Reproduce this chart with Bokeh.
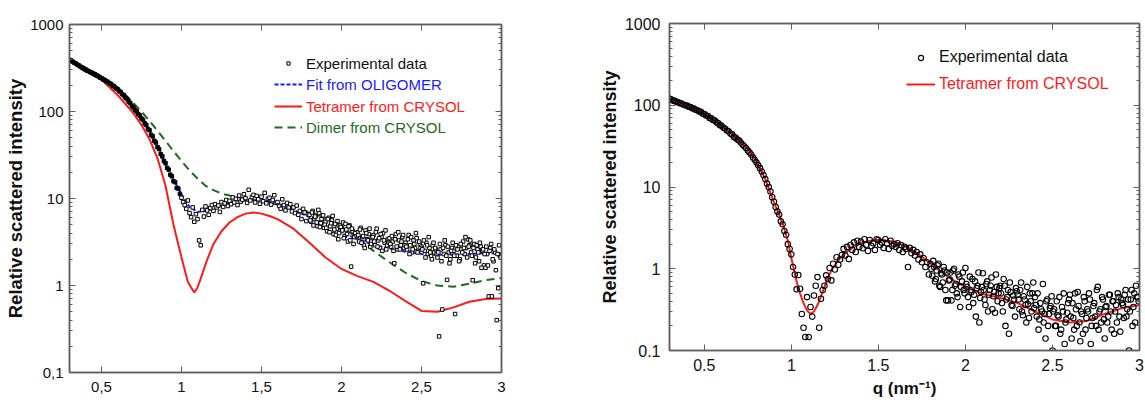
from bokeh.plotting import figure
from bokeh.models import (Range1d, FixedTicker, LinearAxis, LogAxis, Legend,
                          LegendItem, CustomJSTickFormatter)
from bokeh.layouts import row
from bokeh.embed import file_html
from bokeh.resources import INLINE

# ---------------- data ----------------
q_lo = [0.30, 0.31, 0.32, 0.33, 0.34, 0.35, 0.36, 0.37, 0.38, 0.39,
        0.40, 0.41, 0.42, 0.43, 0.44, 0.45, 0.46, 0.47, 0.48, 0.49,
        0.50, 0.51, 0.52, 0.53, 0.54, 0.55, 0.56, 0.57, 0.58, 0.59,
        0.60, 0.61, 0.62, 0.63, 0.64, 0.65, 0.66, 0.67, 0.68, 0.69,
        0.70, 0.71, 0.72, 0.73, 0.74, 0.75, 0.76, 0.77, 0.78, 0.79,
        0.80, 0.81, 0.82, 0.83, 0.84, 0.85, 0.86, 0.87, 0.88, 0.89,
        0.90, 0.91, 0.92, 0.93, 0.94, 0.95, 0.96, 0.97, 0.98, 0.99]

q_hi = [1.00, 1.01, 1.02, 1.03, 1.04, 1.05, 1.06, 1.07, 1.08, 1.09,
        1.10, 1.11, 1.12, 1.13, 1.14, 1.15, 1.16, 1.17, 1.18, 1.19,
        1.20, 1.21, 1.22, 1.23, 1.24, 1.25, 1.26, 1.27, 1.28, 1.29,
        1.30, 1.31, 1.32, 1.33, 1.34, 1.35, 1.36, 1.37, 1.38, 1.39,
        1.40, 1.41, 1.42, 1.43, 1.44, 1.45, 1.46, 1.47, 1.48, 1.49,
        1.50, 1.51, 1.52, 1.53, 1.54, 1.55, 1.56, 1.57, 1.58, 1.59,
        1.60, 1.61, 1.62, 1.63, 1.64, 1.65, 1.66, 1.67, 1.68, 1.69,
        1.70, 1.71, 1.72, 1.73, 1.74, 1.75, 1.76, 1.77, 1.78, 1.79,
        1.80, 1.81, 1.82, 1.83, 1.84, 1.85, 1.86, 1.87, 1.88, 1.89,
        1.90, 1.91, 1.92, 1.93, 1.94, 1.95, 1.96, 1.97, 1.98, 1.99,
        2.00, 2.01, 2.02, 2.03, 2.04, 2.05, 2.06, 2.07, 2.08, 2.09,
        2.10, 2.11, 2.12, 2.13, 2.14, 2.15, 2.16, 2.17, 2.18, 2.19,
        2.20, 2.21, 2.22, 2.23, 2.24, 2.25, 2.26, 2.27, 2.28, 2.29,
        2.30, 2.31, 2.32, 2.33, 2.34, 2.35, 2.36, 2.37, 2.38, 2.39,
        2.40, 2.41, 2.42, 2.43, 2.44, 2.45, 2.46, 2.47, 2.48, 2.49,
        2.50, 2.51, 2.52, 2.53, 2.54, 2.55, 2.56, 2.57, 2.58, 2.59,
        2.60, 2.61, 2.62, 2.63, 2.64, 2.65, 2.66, 2.67, 2.68, 2.69,
        2.70, 2.71, 2.72, 2.73, 2.74, 2.75, 2.76, 2.77, 2.78, 2.79,
        2.80, 2.81, 2.82, 2.83, 2.84, 2.85, 2.86, 2.87, 2.88, 2.89,
        2.90, 2.91, 2.92, 2.93, 2.94, 2.95, 2.96, 2.97, 2.98, 2.99]

# extra interleaved q points (dense, noisy tail)
q_hi2 = [1.805, 1.815, 1.825, 1.835, 1.845, 1.855, 1.865, 1.875, 1.885, 1.895,
         1.905, 1.915, 1.925, 1.935, 1.945, 1.955, 1.965, 1.975, 1.985, 1.995,
         2.005, 2.015, 2.025, 2.035, 2.045, 2.055, 2.065, 2.075, 2.085, 2.095,
         2.105, 2.115, 2.125, 2.135, 2.145, 2.155, 2.165, 2.175, 2.185, 2.195,
         2.205, 2.215, 2.225, 2.235, 2.245, 2.255, 2.265, 2.275, 2.285, 2.295,
         2.305, 2.315, 2.325, 2.335, 2.345, 2.355, 2.365, 2.375, 2.385, 2.395,
         2.405, 2.415, 2.425, 2.435, 2.445, 2.455, 2.465, 2.475, 2.485, 2.495,
         2.505, 2.515, 2.525, 2.535, 2.545, 2.555, 2.565, 2.575, 2.585, 2.595,
         2.605, 2.615, 2.625, 2.635, 2.645, 2.655, 2.665, 2.675, 2.685, 2.695,
         2.705, 2.715, 2.725, 2.735, 2.745, 2.755, 2.765, 2.775, 2.785, 2.795,
         2.805, 2.815, 2.825, 2.835, 2.845, 2.855, 2.865, 2.875, 2.885, 2.895,
         2.905, 2.915, 2.925, 2.935, 2.945, 2.955, 2.965, 2.975, 2.985, 2.995]

# left panel: experimental data
exp_L_lo = [392, 386, 374, 363, 356, 345, 337, 326, 319, 309,
            303, 295, 291, 283, 279, 271, 267, 259, 254, 246,
            242, 234, 230, 223, 219, 211, 207, 198, 194, 185,
            181, 172, 167, 158, 153, 144, 139, 130, 125, 116,
            111, 104, 100, 93, 90, 83, 80, 73, 70, 63,
            61, 54, 52, 46, 44, 39, 37, 32.5, 30.5, 27,
            25.5, 22.5, 21.5, 18.8, 18, 15.8, 15.4, 13.2, 13, 11.3]

exp_L_hi = [10.2, 9.1, 8.4, 7.6, 9.5, 6.8, 6.1, 7.9, 5.4, 6.6,
            5.8, 3.3, 2.9, 7.4, 6.2, 8.1, 7.3, 6.5, 7.8, 8.4,
            7.2, 8.6, 7.9, 8.3, 7.0, 9.1, 8.0, 8.8, 9.6, 8.2,
            9.4, 8.6, 10.3, 9.0, 9.9, 8.4, 10.8, 9.2, 9.7, 11.2,
            10.1, 8.9, 12.6, 9.5, 10.4, 11.0, 9.0, 10.7, 9.8, 8.7,
            10.5, 9.3, 11.6, 8.8, 9.9, 10.2, 8.5, 9.6, 10.9, 8.9,
            9.1, 8.2, 7.6, 9.8, 8.4, 7.3, 8.9, 7.9, 8.6, 7.1,
            7.9, 6.8, 8.3, 6.5, 7.2, 5.8, 7.6, 6.9, 5.5, 6.6,
            6.5, 5.4, 7.2, 5.9, 6.3, 4.8, 6.8, 5.2, 5.9, 4.6,
            5.4, 4.2, 6.0, 4.8, 5.6, 3.9, 5.1, 4.5, 3.4, 4.9,
            4.6, 5.3, 3.7, 4.4, 3.2, 4.9, 1.65, 4.2, 3.6, 3.9,
            4.1, 3.2, 4.6, 3.6, 2.9, 4.3, 3.4, 3.9, 2.8, 3.5,
            3.8, 2.9, 4.5, 3.3, 2.7, 3.6, 4.0, 3.1, 2.6, 3.4,
            3.5, 2.8, 3.2, 1.8, 3.9, 2.6, 3.3, 2.9, 3.6, 2.7,
            3.1, 2.6, 3.8, 2.9, 2.4, 3.3, 2.7, 3.5, 2.5, 3.0,
            2.8, 1.06, 2.5, 3.1, 2.3, 2.7, 2.2, 2.9, 2.4, 2.6,
            2.1, 0.26, 2.6, 0.53, 2.3, 2.9, 1.16, 2.4, 2.0, 2.7,
            2.5, 0.47, 2.2, 2.8, 2.0, 2.6, 3.2, 2.3, 2.7, 3.4,
            2.9, 2.4, 1.15, 3.0, 2.1, 2.6, 1.9, 2.8, 2.5, 1.7,
            1.6, 2.3, 0.75, 2.7, 0.75, 1.9, 2.4, 0.40, 0.93, 2.2]

exp_L_hi2 = [5.6, 6.9, 4.9, 6.2, 5.3, 7.4, 4.7, 5.8, 6.4, 5.0,
             4.6, 5.8, 4.1, 5.2, 6.3, 4.4, 3.8, 5.5, 4.0, 4.7,
             4.3, 3.5, 5.1, 3.9, 4.8, 3.3, 4.5, 3.0, 4.0, 3.7,
             3.8, 4.4, 3.1, 3.7, 2.7, 4.0, 3.3, 4.5, 3.0, 3.6,
             3.2, 4.1, 2.8, 3.5, 3.9, 2.5, 3.3, 4.3, 2.9, 3.1,
             3.0, 3.7, 2.5, 3.4, 2.8, 4.1, 2.6, 3.2, 3.8, 2.9,
             2.8, 3.4, 2.3, 3.6, 2.6, 3.0, 4.0, 2.4, 3.2, 2.7,
             2.6, 3.3, 2.1, 2.9, 3.6, 2.4, 2.0, 3.1, 2.7, 2.3,
             2.4, 3.0, 1.9, 2.7, 3.3, 2.2, 2.8, 1.8, 2.5, 3.1,
             2.2, 2.9, 2.6, 1.9, 3.0, 2.4, 2.7, 3.6, 2.1, 2.8,
             3.3, 2.2, 2.7, 1.8, 2.9, 2.4, 3.1, 1.6, 2.6, 2.3,
             2.8, 1.7, 2.5, 3.0, 2.0, 2.6, 1.5, 2.3, 2.9, 2.1]

# left panel: model curves
fit_q = [0.30, 0.35, 0.40, 0.45, 0.50, 0.55, 0.60, 0.65, 0.70, 0.75, 0.80, 0.85,
         0.90, 0.95, 1.00, 1.05, 1.10, 1.15, 1.20, 1.25, 1.30, 1.35, 1.40, 1.45,
         1.50, 1.55, 1.60, 1.70, 1.80, 1.90, 2.00, 2.10, 2.20, 2.30, 2.40, 2.50,
         2.60, 2.70, 2.80, 2.90, 3.00]
fit_I = [392, 346, 302, 272, 241, 212, 180, 145, 110, 84, 60, 40,
         25, 16.5, 11.2, 8.0, 7.0, 7.2, 7.6, 8.2, 8.8, 9.3, 9.6, 9.7,
         9.5, 9.1, 8.6, 7.4, 6.1, 5.0, 4.1, 3.4, 2.95, 2.65, 2.45, 2.3,
         2.25, 2.25, 2.3, 2.35, 2.35]

tet_q = [0.30, 0.35, 0.40, 0.45, 0.50, 0.55, 0.60, 0.65, 0.70, 0.75, 0.80, 0.85,
         0.90, 0.95, 1.00, 1.04, 1.06, 1.08, 1.10, 1.12, 1.16, 1.20, 1.25, 1.30,
         1.35, 1.40, 1.45, 1.50, 1.55, 1.60, 1.70, 1.80, 1.90, 2.00, 2.10, 2.20,
         2.30, 2.40, 2.50, 2.60, 2.70, 2.80, 2.90, 3.00]
tet_I = [390, 340, 295, 260, 232, 190, 155, 122, 95, 70, 48, 29,
         14, 5.0, 2.1, 1.1, 0.95, 0.83, 0.95, 1.2, 1.97, 3.0, 4.2, 5.3,
         6.1, 6.7, 6.9, 6.7, 6.3, 5.8, 4.5, 3.1, 2.1, 1.55, 1.28, 1.1,
         0.87, 0.66, 0.51, 0.50, 0.56, 0.65, 0.70, 0.71]

dim_q = [0.30, 0.35, 0.40, 0.45, 0.50, 0.55, 0.60, 0.65, 0.70, 0.75, 0.80, 0.85,
         0.90, 0.95, 1.00, 1.05, 1.10, 1.15, 1.20, 1.25, 1.30, 1.35, 1.40, 1.50,
         1.60, 1.70, 1.80, 1.90, 2.00, 2.10, 2.20, 2.30, 2.40, 2.50, 2.60, 2.70,
         2.80, 2.90, 3.00]
dim_I = [390, 355, 320, 285, 252, 218, 188, 155, 125, 100, 78, 60,
         46, 35, 27, 21, 17, 14, 12.5, 11.4, 10.8, 10.3, 10.0, 9.3,
         8.6, 7.9, 7.0, 6.0, 4.8, 3.5, 2.5, 1.85, 1.4, 1.12, 1.0, 0.97,
         1.05, 1.15, 1.22]

# right panel: experimental data
exp_R_lo = [121, 118, 114, 113, 110, 109, 106, 105, 102, 100,
            99, 96, 95, 92, 91, 88, 87, 84, 83, 79,
            78, 75, 74, 70, 69, 66, 65, 62, 60, 57,
            56, 53, 52, 49, 48, 45, 44, 41, 40, 38,
            37, 35, 33, 31.5, 30, 28, 26.5, 25, 23, 21.5,
            20, 18.5, 17, 15.5, 14, 12.5, 11, 10, 8.8, 7.5,
            6.6, 5.7, 5.0, 4.6, 3.8, 3.5, 2.9, 2.6, 2.0, 1.75]

exp_R_hi = [1.5, 1.05, 0.85, 0.56, 0.84, 0.57, 0.28, 0.19, 0.146, 0.45,
            0.146, 0.34, 0.26, 0.47, 0.62, 0.79, 0.19, 0.43, 0.55, 0.62,
            0.83, 0.75, 1.02, 0.72, 1.15, 0.98, 1.38, 1.12, 1.3, 1.47,
            1.75, 1.45, 1.85, 1.32, 1.95, 1.7, 2.1, 1.6, 2.2, 1.85,
            2.15, 1.78, 2.3, 1.95, 1.65, 2.25, 1.9, 2.05, 1.7, 2.3,
            2.25, 1.95, 2.1, 1.8, 2.3, 2.05, 1.75, 2.2, 1.9, 2.0,
            1.85, 2.05, 1.7, 1.95, 1.6, 1.85, 1.75, 1.05, 1.8, 1.55,
            1.7, 1.45, 1.6, 1.3, 1.5, 1.2, 1.35, 1.05, 1.2, 0.85,
            1.15, 0.82, 1.05, 0.75, 1.1, 0.62, 0.88, 0.68, 0.95, 0.41,
            0.41, 0.74, 0.41, 0.95, 0.62, 0.5, 0.85, 0.34, 0.7, 0.55,
            1.02, 0.6, 0.34, 0.55, 0.75, 0.48, 0.26, 0.62, 0.22, 0.52,
            0.88, 0.42, 0.65, 0.3, 0.55, 0.78, 0.46, 0.29, 0.6, 0.5,
            0.62, 0.38, 0.75, 0.2, 0.45, 0.16, 0.52, 0.35, 0.42, 0.58,
            0.48, 0.32, 0.68, 0.27, 0.42, 0.22, 0.37, 0.5, 0.3, 0.68,
            0.45, 0.26, 0.18, 0.38, 0.3, 0.22, 0.14, 0.42, 0.28, 0.35,
            0.1, 0.32, 0.2, 0.27, 0.45, 0.18, 0.3, 0.12, 0.24, 0.38,
            0.48, 0.14, 0.25, 0.5, 0.2, 0.35, 0.13, 0.28, 0.45, 0.18,
            0.32, 0.5, 0.12, 0.25, 0.38, 0.2, 0.6, 0.3, 0.22, 0.42,
            0.14, 0.35, 0.26, 0.48, 0.18, 0.4, 0.3, 0.22, 0.45, 0.17,
            0.38, 0.25, 0.55, 0.32, 0.1, 0.42, 0.2, 0.5, 0.62, 0.45]

exp_R_hi2 = [1.0, 1.25, 0.7, 0.95, 1.15, 0.6, 0.85, 1.05, 0.55, 0.9,
             0.72, 0.9, 0.55, 1.0, 0.65, 0.45, 0.8, 0.6, 0.9, 0.5,
             0.65, 0.45, 0.8, 0.52, 0.38, 0.7, 0.58, 0.9, 0.44, 0.6,
             0.55, 0.36, 0.7, 0.48, 0.62, 0.32, 0.52, 0.85, 0.4, 0.58,
             0.5, 0.3, 0.62, 0.42, 0.55, 0.68, 0.36, 0.47, 0.26, 0.53,
             0.42, 0.55, 0.3, 0.46, 0.36, 0.6, 0.25, 0.4, 0.5, 0.33,
             0.36, 0.5, 0.24, 0.32, 0.65, 0.28, 0.4, 0.2, 0.33, 0.46,
             0.3, 0.2, 0.4, 0.26, 0.16, 0.34, 0.5, 0.22, 0.29, 0.42,
             0.26, 0.38, 0.18, 0.32, 0.52, 0.22, 0.3, 0.16, 0.4, 0.25,
             0.3, 0.42, 0.2, 0.35, 0.26, 0.55, 0.18, 0.32, 0.45, 0.24,
             0.34, 0.22, 0.48, 0.3, 0.4, 0.16, 0.36, 0.5, 0.26, 0.42,
             0.36, 0.48, 0.26, 0.42, 0.3, 0.55, 0.34, 0.22, 0.45, 0.4]

tetR_q = [0.30, 0.35, 0.40, 0.45, 0.50, 0.55, 0.60, 0.65, 0.70, 0.75, 0.80, 0.85,
          0.88, 0.90, 0.93, 0.95, 0.98, 1.00, 1.03, 1.05, 1.07, 1.09, 1.11, 1.13,
          1.15, 1.17, 1.19, 1.21, 1.23, 1.26, 1.30, 1.35, 1.40, 1.45, 1.50, 1.55,
          1.60, 1.65, 1.70, 1.75, 1.80, 1.85, 1.90, 1.95, 2.00, 2.10, 2.20, 2.30,
          2.40, 2.50, 2.60, 2.70, 2.80, 2.90, 3.00]
tetR_I = [120, 109, 99, 89, 78, 67, 56, 46, 37, 29, 20.5, 12.5,
          8.5, 6.5, 4.6, 3.6, 2.2, 1.35, 0.7, 0.5, 0.38, 0.31, 0.28, 0.3,
          0.36, 0.46, 0.6, 0.78, 0.95, 1.2, 1.5, 1.8, 2.05, 2.2, 2.25, 2.22,
          2.12, 1.9, 1.65, 1.4, 1.15, 0.95, 0.8, 0.68, 0.6, 0.49, 0.44, 0.38,
          0.3, 0.24, 0.22, 0.23, 0.28, 0.33, 0.36]

x_ticks = [0.5, 1.0, 1.5, 2.0, 2.5, 3.0]
y_ticks = [0.1, 1, 10, 100, 1000]
y_minor = [m * 10.0 ** e for e in range(-1, 3) for m in range(2, 10)]

FONT = "Liberation Sans"
AX = "#5f5f5f"


def style_axis(ax, fs, show_labels, fmt):
    ax.axis_line_color = AX
    ax.axis_line_width = 1.5
    ax.major_tick_line_color = AX
    ax.minor_tick_line_color = AX
    ax.major_tick_in = 6
    ax.major_tick_out = 0
    ax.minor_tick_in = 3
    ax.minor_tick_out = 0
    ax.major_label_text_font = FONT
    ax.major_label_text_color = "#111111"
    if show_labels:
        ax.major_label_text_font_size = fs
        ax.formatter = fmt
    else:
        ax.major_label_text_font_size = "1px"
        ax.major_label_text_alpha = 0
        ax.major_label_standoff = 0


def make_fig(width, bl, br, bt, bb, fs, code):
    p = figure(width=width, height=400, x_range=Range1d(0.3, 3.0),
               y_range=Range1d(0.1, 1000), y_axis_type="log",
               output_backend="svg", toolbar_location=None,
               min_border_left=bl, min_border_right=br,
               min_border_top=bt, min_border_bottom=bb)
    p.frame_align = False
    p.xgrid.visible = False
    p.ygrid.visible = False
    p.outline_line_color = AX
    p.outline_line_width = 1.5
    p.background_fill_color = "white"
    p.border_fill_color = "white"
    bottom = p.below[0]
    left = p.left[0]
    bottom.ticker = FixedTicker(ticks=x_ticks, minor_ticks=[])
    left.ticker = FixedTicker(ticks=y_ticks, minor_ticks=y_minor)
    style_axis(bottom, fs, True, CustomJSTickFormatter(code=code))
    style_axis(left, fs, True, CustomJSTickFormatter(code=code))
    top = LinearAxis(ticker=FixedTicker(ticks=x_ticks, minor_ticks=[]))
    style_axis(top, fs, False, None)
    p.add_layout(top, "above")
    right = LogAxis(ticker=FixedTicker(ticks=y_ticks, minor_ticks=y_minor))
    style_axis(right, fs, False, None)
    p.add_layout(right, "right")
    return p, bottom, left


def add_leg(p, label, rend, color, vx, vy, fs, gw, gh, standoff):
    leg = Legend(items=[LegendItem(label=label, renderers=[rend])],
                 location=(vx, vy), glyph_width=gw, glyph_height=gh,
                 label_height=20, label_standoff=standoff, padding=0, margin=0,
                 spacing=0, label_text_font=FONT, label_text_font_size=fs,
                 label_text_color=color, background_fill_alpha=0,
                 border_line_alpha=0)
    p.add_layout(leg)


# ---------------- left panel ----------------
pL, bL, lL = make_fig(560, 69, 59, 24, 28, "15px",
                      "return tick.toString().replace('.', ',');")
lL.axis_label = "Relative scattered intensity"
lL.axis_label_text_font = FONT
lL.axis_label_text_font_size = "18.5px"
lL.axis_label_text_font_style = "bold"
lL.axis_label_text_color = "#111111"
lL.major_label_standoff = 6
lL.axis_label_standoff = 1
bL.major_label_standoff = 9

GREEN = "#1d6b1d"
r_dim = pL.line(dim_q, dim_I, line_color=GREEN, line_width=2, line_dash="8 5")
r_tet = pL.line(tet_q, tet_I, line_color="#ff1a1a", line_width=2)
r_fit = pL.line(fit_q, fit_I, line_color="#1a1aff", line_width=2, line_dash="4 2")
pL.scatter(q_lo, exp_L_lo, marker="square", size=3.5, line_color="black",
           fill_color="black", line_width=1)
r_expL = pL.scatter(q_hi, exp_L_hi, marker="square", size=3.5, line_color="black",
                    fill_color="white", line_width=1)
pL.scatter(q_hi2, exp_L_hi2, marker="square", size=3.5, line_color="black",
           fill_color="white", line_width=1)

add_leg(pL, "Experimental data", r_expL, "#111111", 205, 299, "15px", 28, 8, 4)
add_leg(pL, "Fit from OLIGOMER", r_fit, "#1a1aff", 205, 278, "15px", 28, 20, 4)
add_leg(pL, "Tetramer from CRYSOL", r_tet, "#ff1a1a", 205, 256, "15px", 28, 20, 4)
add_leg(pL, "Dimer from CRYSOL", r_dim, GREEN, 205, 235, "15px", 28, 20, 4)

# ---------------- right panel ----------------
pR, bR, lR = make_fig(585, 109, 6, 23, 48, "16px", "return tick.toString();")
lR.axis_label = "Relative scattered intensity"
lR.axis_label_text_font = FONT
lR.axis_label_text_font_size = "18px"
lR.axis_label_text_font_style = "bold"
lR.axis_label_text_color = "#111111"
lR.major_label_standoff = 9
lR.axis_label_standoff = 2
bR.axis_label = "q (nm\u207b\u00b9)"
bR.axis_label_text_font = FONT
bR.axis_label_text_font_size = "17px"
bR.axis_label_text_font_style = "bold"
bR.axis_label_text_color = "#111111"
bR.major_label_standoff = 8
bR.axis_label_standoff = 5

r_tetR = pR.line(tetR_q, tetR_I, line_color="#ff1a1a", line_width=2)
pR.scatter(q_lo, exp_R_lo, marker="circle", size=5.5, line_color="black",
           fill_color=None, line_width=1.1)
r_expR = pR.scatter(q_hi, exp_R_hi, marker="circle", size=5.5, line_color="black",
                    fill_color=None, line_width=1.1)
pR.scatter(q_hi2, exp_R_hi2, marker="circle", size=5.5, line_color="black",
           fill_color=None, line_width=1.1)

add_leg(pR, "Experimental data", r_expR, "#111111", 237, 283, "16px", 29, 13, 4)
add_leg(pR, "Tetramer from CRYSOL", r_tetR, "#ff1a1a", 237, 256, "16px", 29, 20, 4)

layout = row(pL, pR)
open("out.html", "w").write(file_html(layout, INLINE))
